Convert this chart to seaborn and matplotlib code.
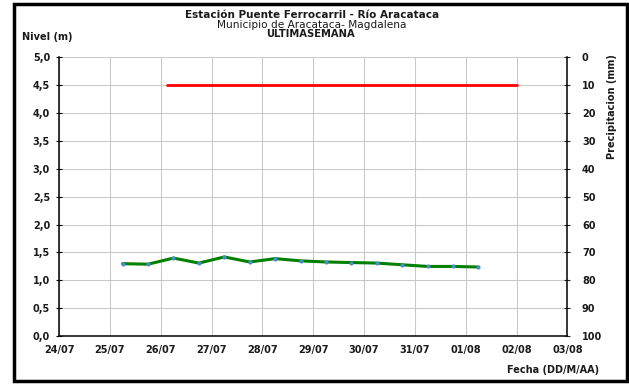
import pandas as pd
import seaborn as sns
import matplotlib.pyplot as plt
import matplotlib.dates as mdates
from matplotlib.patches import Rectangle

# nivel cada 12 horas
fechas = pd.date_range('2014-07-25 06:00', '2014-08-01 06:00', freq='12h')
nivel = [1.30, 1.29, 1.40, 1.31, 1.42, 1.33, 1.39, 1.35, 1.33, 1.32, 1.31, 1.28, 1.25, 1.25, 1.24]
# linea roja (umbral)
umbral_fechas = pd.to_datetime(['2014-07-26 03:00', '2014-08-02 00:00'])
umbral = [4.5, 4.5]

dias = pd.date_range('2014-07-24', '2014-08-03', freq='D')
niveles_ticks = [i * 0.5 for i in range(11)]
precip_ticks = list(range(0, 101, 10))

df = pd.DataFrame({'fecha': fechas, 'nivel': nivel})

sns.set_style('white')
plt.rcParams['font.family'] = ['DejaVu Sans']

fig = plt.figure(figsize=(6.29, 3.86), dpi=100)
ax = fig.add_axes([0.094, 0.129, 0.808, 0.723])

ax.plot(umbral_fechas, umbral, color='#ff0000', lw=2, zorder=3)
sns.lineplot(data=df, x='fecha', y='nivel', ax=ax, color='#008000', lw=2.2, zorder=4)
ax.scatter(df['fecha'], df['nivel'], s=9, color='#4a8fc4', zorder=5, linewidths=0)

ax.set_xlim(dias[0], dias[-1])
ax.set_ylim(0, 5)
ax.set_xticks(dias)
ax.xaxis.set_major_formatter(mdates.DateFormatter('%d/%m'))
ax.set_yticks(niveles_ticks)
ax.set_yticklabels([f'{v:.1f}'.replace('.', ',') for v in niveles_ticks])
ax.grid(True, color='#c8c8c8', lw=0.75)
ax.set_axisbelow(True)
ax.set_xlabel('')
ax.set_ylabel('')
for s in ['left', 'bottom']:
    ax.spines[s].set_color('black')
    ax.spines[s].set_linewidth(1.1)
ax.spines['top'].set_visible(False)
ax.spines['right'].set_visible(False)
ax.tick_params(axis='both', direction='inout', length=5, width=0.8, colors='black',
               labelsize=7, pad=4)
for lab in ax.get_xticklabels() + ax.get_yticklabels():
    lab.set_fontweight('bold')
    lab.set_color('#1a1a1a')

ax2 = ax.twinx()
ax2.set_ylim(100, 0)
ax2.set_yticks(precip_ticks)
ax2.set_yticklabels([str(v) for v in precip_ticks], fontweight='bold', color='#1a1a1a')
ax2.tick_params(axis='y', direction='inout', length=5, width=0.8, labelsize=7, pad=8)
ax2.grid(False)
for s in ['left', 'bottom', 'top']:
    ax2.spines[s].set_visible(False)
ax2.spines['right'].set_color('black')
ax2.spines['right'].set_linewidth(1.1)

fig.text(0.496, 0.961, 'Estación Puente Ferrocarril - Río Aracataca', ha='center', va='center',
         fontsize=7.5, fontweight='bold', color='#1a1a1a')
fig.text(0.496, 0.935, 'Municipio de Aracataca- Magdalena', ha='center', va='center',
         fontsize=7.6, color='#1a1a1a')
fig.text(0.493, 0.912, 'ULTIMASEMANA', ha='center', va='center', fontsize=7.2,
         fontweight='bold', color='#1a1a1a')
fig.text(0.035, 0.903, 'Nivel (m)', ha='left', va='center', fontsize=7, fontweight='bold',
         color='#1a1a1a')
fig.text(0.973, 0.725, 'Precipitacion (mm)', ha='center', va='center', rotation=90,
         fontsize=7, fontweight='bold', color='#1a1a1a')
fig.text(0.952, 0.041, 'Fecha (DD/M/AA)', ha='right', va='center', fontsize=7,
         fontweight='bold', color='#1a1a1a')

fig.patches.append(Rectangle((0.0215, 0.0117), 0.976, 0.979, transform=fig.transFigure,
                             fill=False, edgecolor='black', lw=2.5))

plt.savefig('out.png', dpi=100)
